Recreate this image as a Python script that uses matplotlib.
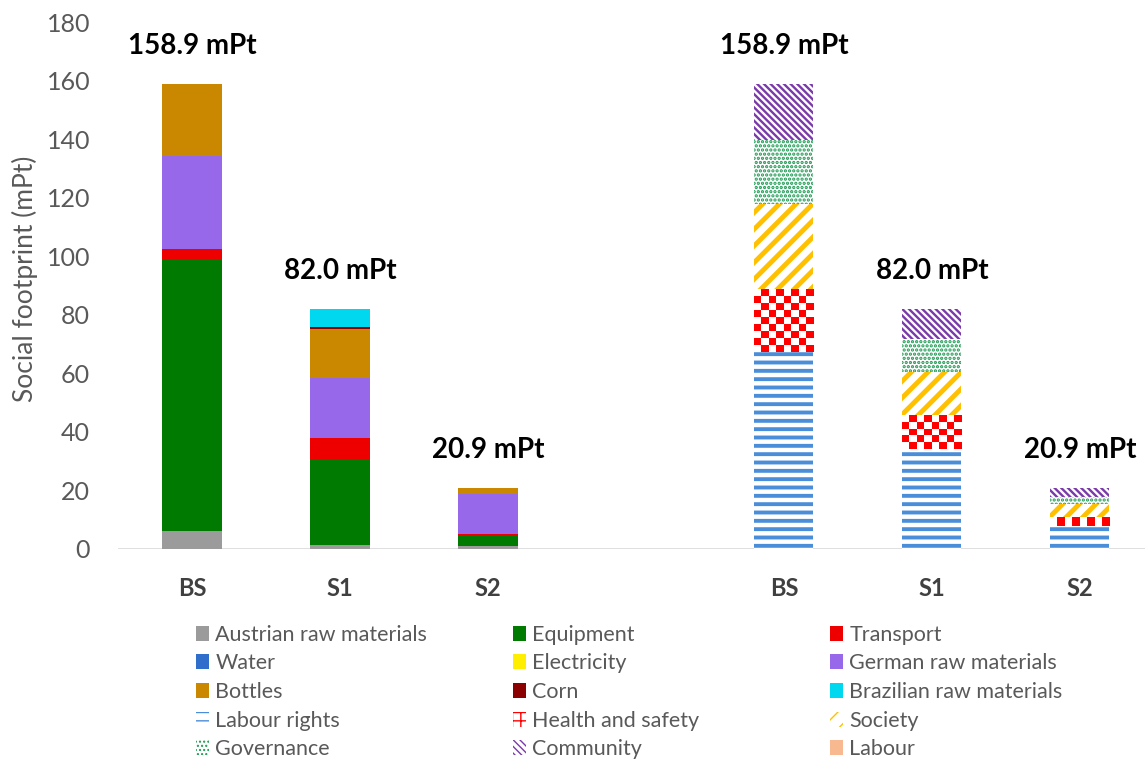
import numpy as np
import matplotlib
matplotlib.use("Agg")
import matplotlib.pyplot as plt
from matplotlib.patches import Patch
from matplotlib.colors import ListedColormap

plt.rcParams['font.family'] = ['Lato', 'DejaVu Sans']

scenarios = ['BS', 'S1', 'S2']

# Social footprint by process (mPt)
austrian = [6.1, 1.4, 1.0]
equipment = [93.0, 29.3, 3.8]
transport = [3.4, 7.3, 0.4]
water = [0.0, 0.0, 0.0]
electricity = [0.0, 0.0, 0.0]
german = [31.9, 20.3, 13.6]
bottles = [24.5, 16.7, 2.1]
corn = [0.0, 0.9, 0.0]
brazilian = [0.0, 6.1, 0.0]

# Social footprint by impact subcategory (mPt)
labour_rights = [67.3, 34.3, 8.0]
health_safety = [21.3, 11.5, 3.0]
society = [29.1, 14.6, 4.2]
governance = [21.9, 11.4, 2.6]
community = [19.3, 10.2, 3.1]
labour = [0.0, 0.0, 0.0]

process_series = [
    ('Austrian raw materials', austrian, '#9b9b9b'),
    ('Equipment', equipment, '#007a00'),
    ('Transport', transport, '#ee0000'),
    ('Water', water, '#2f6fcb'),
    ('Electricity', electricity, '#ffee00'),
    ('German raw materials', german, '#9769ea'),
    ('Bottles', bottles, '#c98800'),
    ('Corn', corn, '#8b0000'),
    ('Brazilian raw materials', brazilian, '#00d8f0'),
]

# (label, values, colour, hatch, hatch linewidth); None hatch -> checkerboard
category_series = [
    ('Labour rights', labour_rights, '#4a8dd8', '--', 2.8),
    ('Health and safety', health_safety, '#ff0000', None, 0),
    ('Society', society, '#ffc000', '//', 3.5),
    ('Governance', governance, '#1a9a50', '....', 1.6),
    ('Community', community, '#7a3aaa', '\\\\\\\\\\', 1.7),
    ('Labour', labour, '#f8b890', '', 1.0),
]

x_left = np.arange(3)
x_right = np.arange(3) + 4
width = 0.4

fig = plt.figure(figsize=(11.45, 7.59), dpi=100)
ax = fig.add_axes([0.103, 0.2767, 0.897, 0.6943])
ax.set_xlim(-0.5, 6.44)
ax.set_ylim(0, 180)

handles = {}

bottom = np.zeros(3)
for name, vals, col in process_series:
    vals = np.array(vals)
    ax.bar(x_left, vals, width, bottom=bottom, color=col, linewidth=0, zorder=2)
    handles[name] = Patch(facecolor=col, edgecolor='none')
    bottom += vals
left_totals = bottom.copy()


def checker_fill(patch, color, cell=7.3):
    x0, y0 = patch.get_x(), patch.get_y()
    w, h = patch.get_width(), patch.get_height()
    if h <= 0:
        return
    p0 = ax.transData.transform((x0, y0))
    p1 = ax.transData.transform((x0 + w, y0 + h))
    nx = max(1, int(round((p1[0] - p0[0]) / cell)))
    ny = max(1, int(round((p1[1] - p0[1]) / cell)))
    grid = np.add.outer(np.arange(ny), np.arange(nx)) % 2
    ax.imshow(grid, extent=(x0, x0 + w, y0, y0 + h), origin='upper',
              cmap=ListedColormap(['white', color]), interpolation='nearest',
              aspect='auto', zorder=3)


bottom = np.zeros(3)
for name, vals, col, hatch, hlw in category_series:
    vals = np.array(vals)
    if hatch is None:
        bars = ax.bar(x_right, vals, width, bottom=bottom, color='white',
                      linewidth=0, zorder=2)
        for p in bars:
            checker_fill(p, col)
        with plt.rc_context({'hatch.linewidth': 2.5}):
            h = Patch(facecolor='white', edgecolor=col, hatch='++', linewidth=0)
        if hasattr(h, 'set_hatch_linewidth'):
            h.set_hatch_linewidth(2.5)
        handles[name] = h
    elif hatch == '':
        ax.bar(x_right, vals, width, bottom=bottom, color=col, linewidth=0, zorder=2)
        handles[name] = Patch(facecolor=col, edgecolor='none')
    else:
        with plt.rc_context({'hatch.linewidth': hlw}):
            bars = ax.bar(x_right, vals, width, bottom=bottom, facecolor='white',
                          edgecolor=col, hatch=hatch, linewidth=0, zorder=2)
            h = Patch(facecolor='white', edgecolor=col, hatch=hatch, linewidth=0)
        for p in list(bars) + [h]:
            if hasattr(p, 'set_hatch_linewidth'):
                p.set_hatch_linewidth(hlw)
        handles[name] = h
    bottom += vals
right_totals = bottom.copy()

ax.set_xlim(-0.5, 6.44)
ax.set_ylim(0, 180)

# totals above each stack
for xs, tots in ((x_left, left_totals), (x_right, right_totals)):
    for xi, t in zip(xs, tots):
        ax.annotate(f'{t:.1f} mPt', (xi, t), xytext=(0, 27), textcoords='offset points',
                    ha='center', va='center', fontsize=20, fontweight='bold', color='black')

ax.axhline(0, color='#d9d9d9', linewidth=1.2, zorder=1)
for s in ax.spines.values():
    s.set_visible(False)

ax.set_xticks(list(x_left) + list(x_right))
ax.set_xticklabels(scenarios + scenarios, fontsize=17, fontweight='bold', color='#404040')
ax.tick_params(axis='x', length=0, pad=20)
ax.set_yticks(np.arange(0, 181, 20))
ax.tick_params(axis='y', length=0, labelsize=18, labelcolor='#595959', pad=20)
ax.set_ylabel('Social footprint (mPt)', fontsize=19, color='#595959')
ax.yaxis.set_label_coords(-0.078, 0.512)

# legend: three columns laid out row by row
order = [
    ['Austrian raw materials', 'Water', 'Bottles', 'Labour rights', 'Governance'],
    ['Equipment', 'Electricity', 'Corn', 'Health and safety', 'Community'],
    ['Transport', 'German raw materials', 'Brazilian raw materials', 'Society', 'Labour'],
]
col_x = [196, 513, 830]
for cx, names in zip(col_x, order):
    leg = fig.legend([handles[n] for n in names], names, loc='center left',
                     bbox_to_anchor=(cx / 1145, 1 - 692 / 759), frameon=False,
                     fontsize=15.5, handlelength=0.6, handleheight=0.7,
                     handletextpad=0.3, labelspacing=0.4, borderpad=0,
                     borderaxespad=0)
    for t in leg.get_texts():
        t.set_color('#595959')

fig.savefig('out.png', dpi=100)
